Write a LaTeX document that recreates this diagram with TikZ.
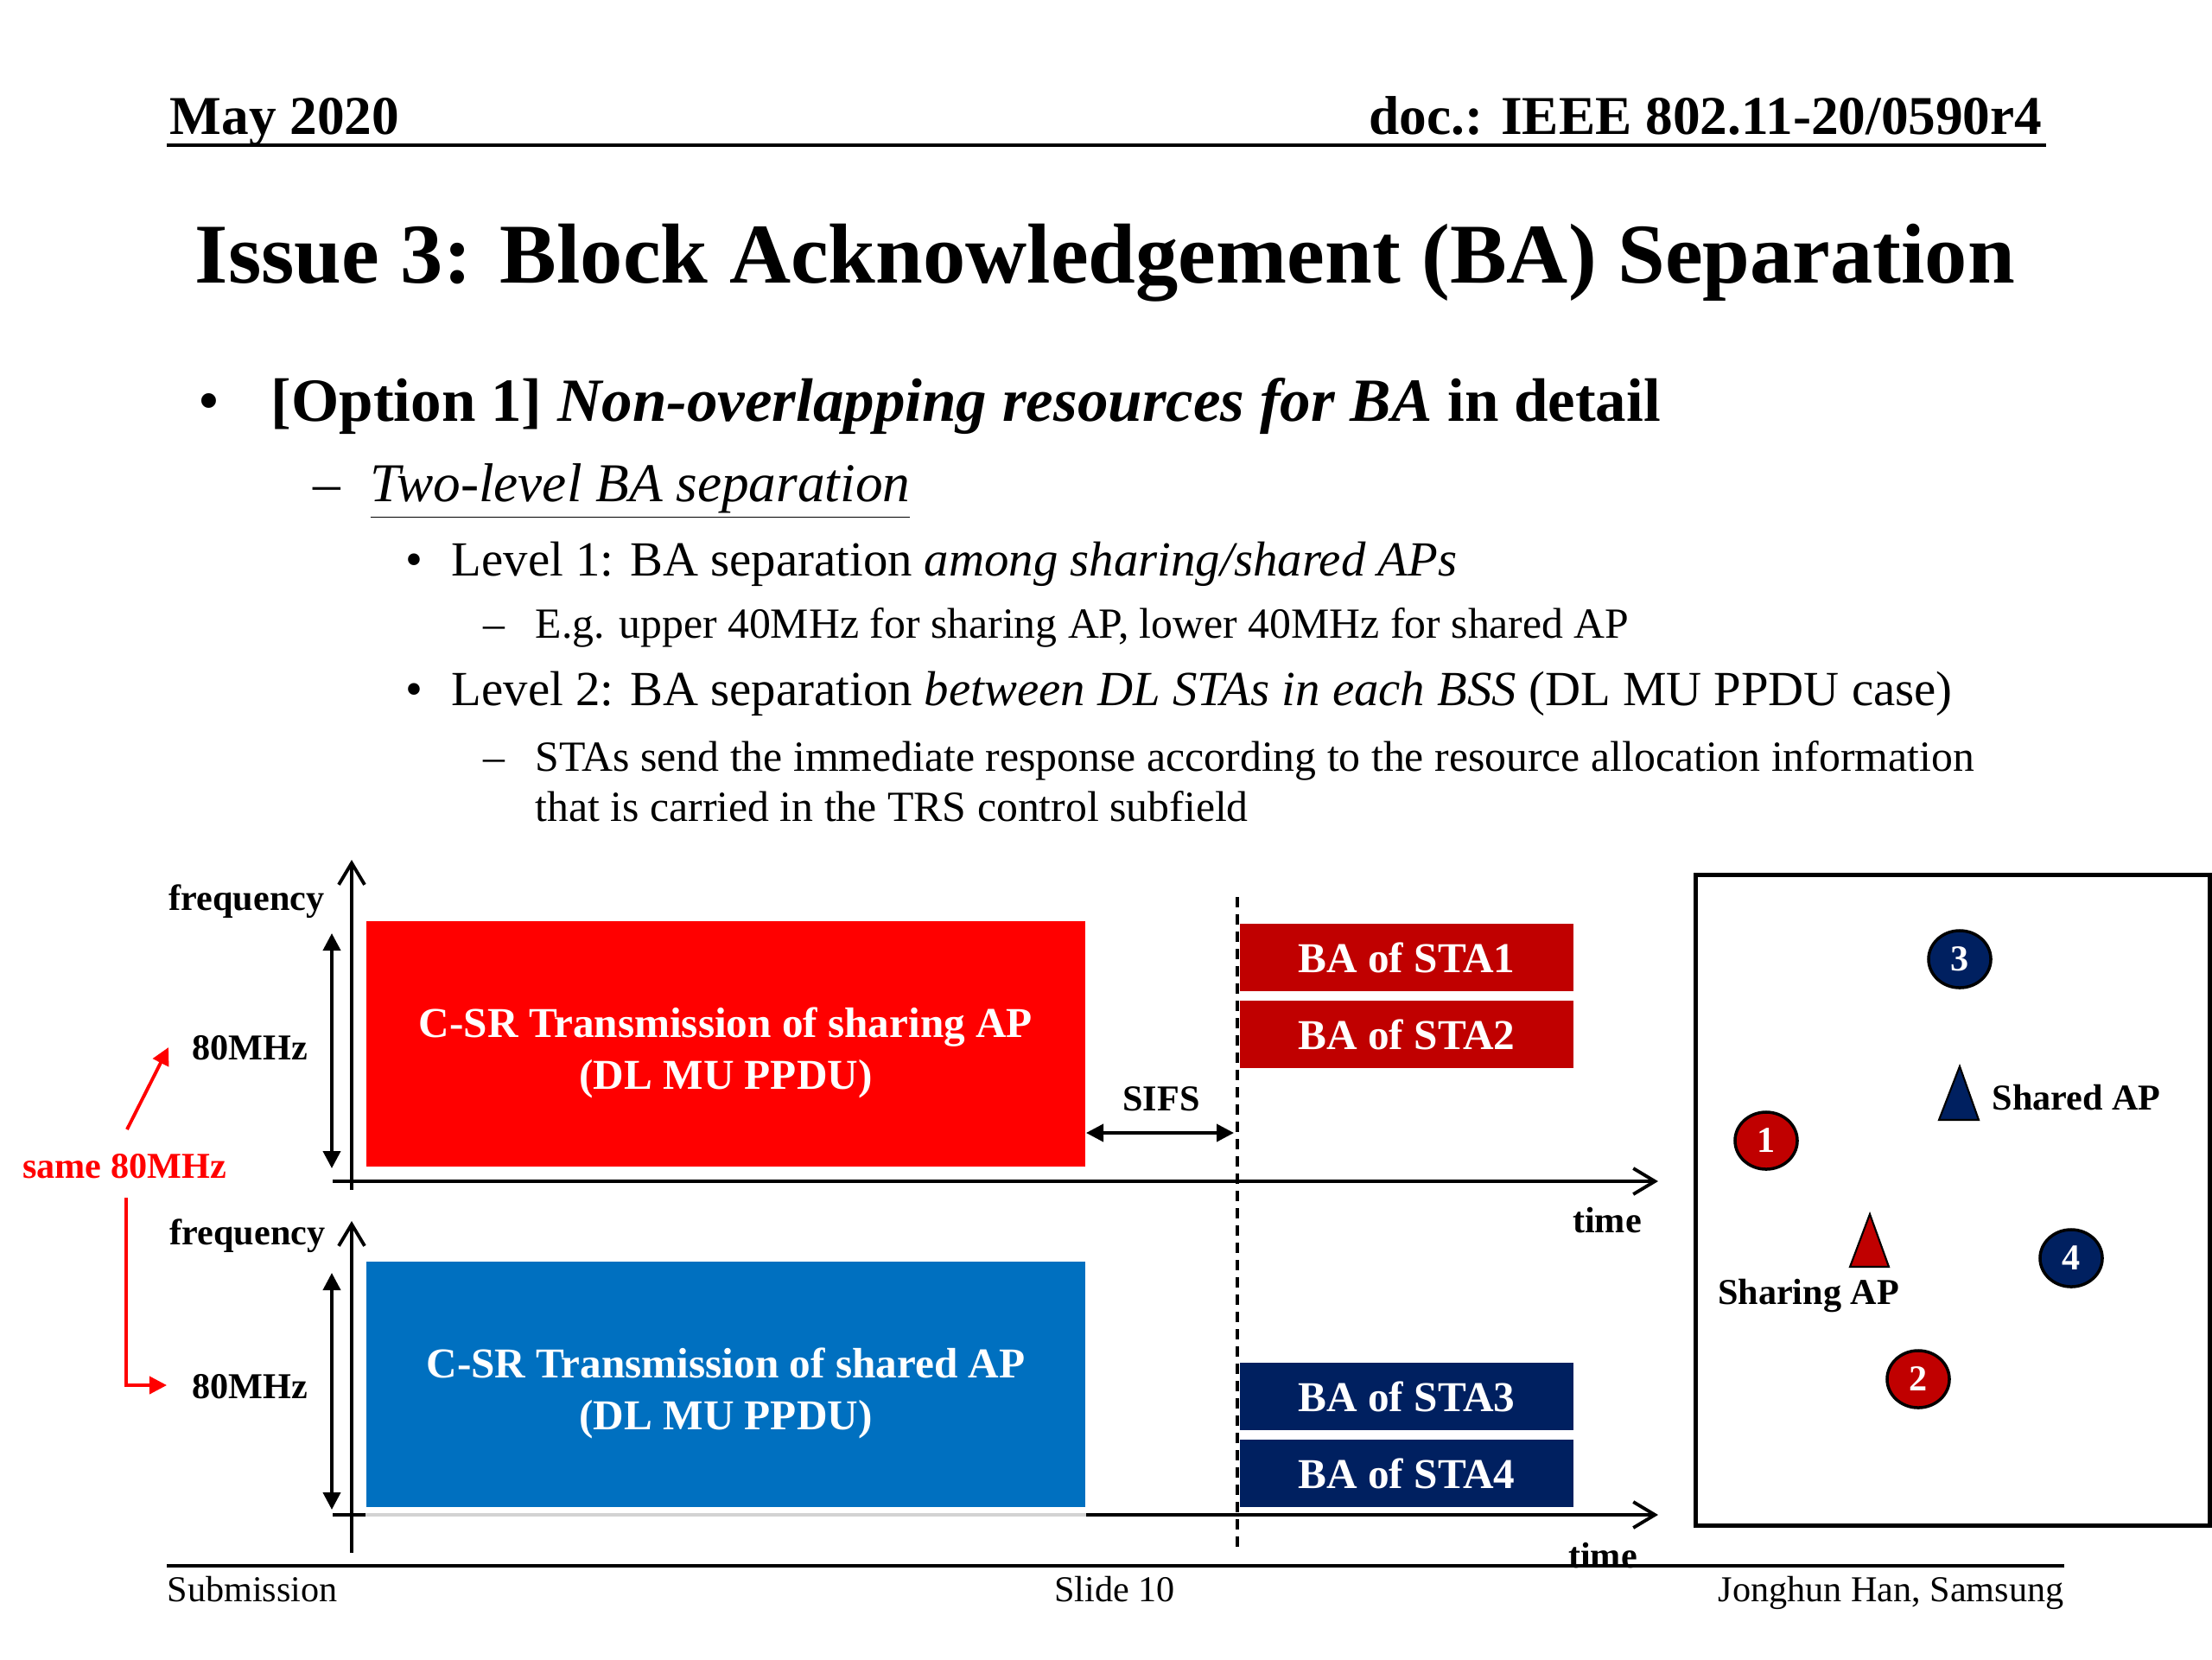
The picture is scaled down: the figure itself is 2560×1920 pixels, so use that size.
\documentclass[tikz,border=0pt]{standalone}
\usepackage{fontspec}
\setmainfont{Liberation Serif}
\usetikzlibrary{arrows.meta, positioning, shapes.geometric, calc}

\definecolor{csrred}{HTML}{FF0000}
\definecolor{csrblue}{HTML}{0070C0}
\definecolor{bared}{HTML}{C00000}
\definecolor{banavy}{HTML}{002060}

% lower a line of box text without changing its size
\newcommand{\lowline}[1]{\raisebox{-0.1cm}[\height][\depth]{#1}}

\begin{document}
\begin{tikzpicture}[x=0.01cm, y=-0.01cm,
        txt/.style={inner sep=0, anchor=base west},
        lbl/.style={inner sep=0, font=\fontsize{12}{14}\selectfont\bfseries},
        axisline/.style={line width=1.1pt, -{Straight Barb[length=0.25cm, width=0.3cm]}},
        bwarrow/.style={line width=1.1pt, {Triangle[length=0.2cm, width=0.2cm]}-{Triangle[length=0.2cm, width=0.2cm]}},
        redarrow/.style={red, line width=1.1pt, -{Triangle[length=0.2cm, width=0.2cm]}},
        csr/.style={inner sep=0, minimum width=8.32cm, minimum height=2.84cm, align=center, text=white, font=\fontsize{14}{17}\selectfont\bfseries},
        ba/.style={inner sep=0, minimum width=3.86cm, minimum height=0.78cm, text=white, font=\fontsize{14}{17}\selectfont\bfseries},
        sta/.style={ellipse, draw=black, line width=1pt, minimum width=0.72cm, minimum height=0.66cm, inner sep=0, text=white, font=\fontsize{12}{14}\selectfont\bfseries},
        ap/.style={draw=black, line width=0.6pt}]
    \useasboundingbox (0,0) rectangle (2560,1920);

    % header
    \node[txt, font=\fontsize{18}{22}\selectfont\bfseries] (date) at (196,155) {May 2020};
    \node[txt, anchor=base east, font=\fontsize{18}{22}\selectfont\bfseries] (doc) at (2364,155) {doc.: IEEE 802.11-20/0590r4};
    \draw[line width=1.2pt] (193,168) -- (2368,168);
    \node[inner sep=0, anchor=base, font=\fontsize{28}{34}\selectfont\bfseries] (title) at (1279,327) {Issue 3: Block Acknowledgement (BA) Separation};

    % bullets
    \node[txt, font=\fontsize{20.2}{24}\selectfont] (b1) at (229,487) {•};
    \node[txt, font=\fontsize{20.2}{24}\selectfont\bfseries] (l1) at (313,487) {[Option 1] \textit{Non-overlapping resources for BA} in detail};
    \node[txt, font=\fontsize{18}{22}\selectfont] (d1) at (362,580) {–};
    \node[txt, font=\fontsize{18}{22}\selectfont] (l2) at (428,580) {\underline{\textit{Two-level BA separation}}};
    \node[txt, font=\fontsize{16.15}{19}\selectfont] (b2) at (469,666) {•};
    \node[txt, font=\fontsize{16.15}{19}\selectfont] (l3) at (522,666) {Level 1: BA separation \textit{among sharing/shared APs}};
    \node[txt, font=\fontsize{14.15}{17}\selectfont] (d2) at (559,738) {–};
    \node[txt, font=\fontsize{14.15}{17}\selectfont] (l4) at (619,738) {E.g. upper 40MHz for sharing AP, lower 40MHz for shared AP};
    \node[txt, font=\fontsize{16.15}{19}\selectfont] (b3) at (469,816) {•};
    \node[txt, font=\fontsize{16.15}{19}\selectfont] (l5) at (522,816) {Level 2: BA separation \textit{between DL STAs in each BSS} (DL MU PPDU case)};
    \node[txt, font=\fontsize{14.15}{17}\selectfont] (d3) at (559,892) {–};
    \node[txt, font=\fontsize{14.15}{17}\selectfont] (l6) at (619,892) {STAs send the immediate response according to the resource allocation information};
    \node[txt, font=\fontsize{14.15}{17}\selectfont] (l7) at (619,950) {that is carried in the TRS control subfield};

    % time/frequency diagram
    \coordinate (f1a) at (407,1377); \coordinate (f1b) at (407,995);
    \coordinate (t1a) at (385,1367); \coordinate (t1b) at (1919,1367);
    \coordinate (f2a) at (407,1797); \coordinate (f2b) at (407,1413);
    \coordinate (t2a) at (385,1753); \coordinate (t2b) at (1919,1753);
    \coordinate (w1a) at (384,1080); \coordinate (w1b) at (384,1352);
    \coordinate (w2a) at (384,1473); \coordinate (w2b) at (384,1747);
    \coordinate (sifsa) at (1257,1311); \coordinate (sifsb) at (1428,1311);
    \coordinate (gapa) at (1432,1038); \coordinate (gapb) at (1432,1796);

    \node[csr, fill=csrred] (csr1) at (840,1208) {\lowline{C-SR Transmission of sharing AP}\\\lowline{(DL MU PPDU)}};
    \node[csr, fill=csrblue] (csr2) at (840,1602) {\lowline{C-SR Transmission of shared AP}\\\lowline{(DL MU PPDU)}};
    \node[ba, fill=bared] (ba1) at (1628,1108) {BA of STA1};
    \node[ba, fill=bared] (ba2) at (1628,1197) {BA of STA2};
    \node[ba, fill=banavy] (ba3) at (1628,1616) {BA of STA3};
    \node[ba, fill=banavy] (ba4) at (1628,1705) {BA of STA4};

    \draw[axisline] (f1a) -- (f1b);
    \draw[axisline] (t1a) -- (t1b);
    \draw[axisline] (f2a) -- (f2b);
    \draw[axisline] (t2a) -- (t2b);
    \draw[gray!35, line width=1.1pt] (csr2.south west |- t2a) -- (csr2.south east |- t2a);
    \draw[bwarrow] (w1a) -- (w1b);
    \draw[bwarrow] (w2a) -- (w2b);
    \draw[bwarrow] (sifsa) -- (sifsb);
    \draw[line width=1pt, dash pattern=on 0.12cm off 0.08cm] (gapa) -- (gapb);

    \node[lbl, anchor=base east] (freq1) at (376,1053) {frequency};
    \node[lbl, anchor=west] (mhz1) at (222,1213) {80MHz};
    \node[lbl, anchor=base east] (freq2) at (377,1440) {frequency};
    \node[lbl, anchor=west] (mhz2) at (222,1605) {80MHz};
    \node[lbl] (time1) at (1860,1412) {time};
    \node[lbl] (time2) at (1855,1800) {time};
    \node[lbl] (sifs) at (1344,1272) {SIFS};
    \node[lbl, text=red] (same) at (144,1350) {same 80MHz};

    \coordinate (r1a) at (147,1307); \coordinate (r1b) at (195,1212);
    \coordinate (r2a) at (146,1386); \coordinate (r2b) at (193,1603);
    \draw[redarrow] (r1a) -- (r1b);
    \draw[redarrow] (r2a) |- (r2b);

    % AP / STA placement
    \node[draw, line width=1.4pt, minimum width=5.94cm, minimum height=7.52cm, inner sep=0] (map) at (2260,1389) {};
    \node[sta, fill=bared] (s1) at (2044,1320) {1};
    \node[sta, fill=bared] (s2) at (2220,1596) {2};
    \node[sta, fill=banavy] (s3) at (2268,1110) {3};
    \node[sta, fill=banavy] (s4) at (2397,1456) {4};
    \filldraw[ap, fill=banavy] (2268,1234) -- (2290,1296) -- (2244,1296) -- cycle;
    \filldraw[ap, fill=bared] (2164,1405) -- (2186,1466) -- (2141,1466) -- cycle;
    \node[lbl, anchor=west] (shared) at (2305,1270) {Shared AP};
    \node[lbl] (sharing) at (2093,1499) {Sharing AP};

    % footer
    \draw[line width=1.2pt] (193,1812) -- (2389,1812);
    \node[txt, font=\fontsize{12}{14}\selectfont] (sub) at (193,1853) {Submission};
    \node[txt, anchor=base, font=\fontsize{12}{14}\selectfont] (slide) at (1290,1853) {Slide 10};
    \node[txt, anchor=base east, font=\fontsize{12}{14}\selectfont] (author) at (2389,1853) {Jonghun Han, Samsung};
\end{tikzpicture}
\end{document}
